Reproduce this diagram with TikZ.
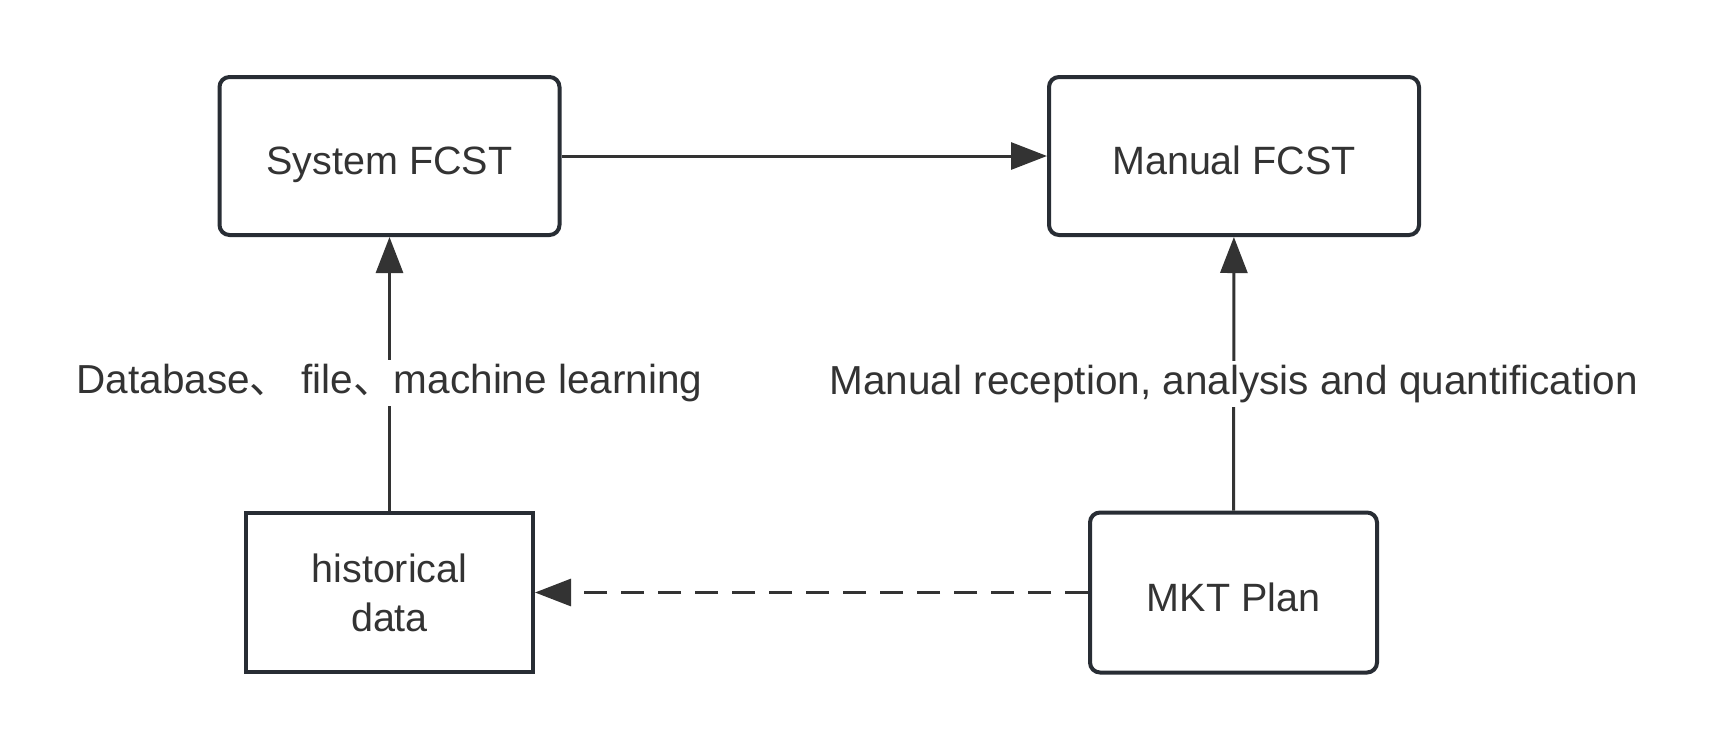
\documentclass[tikz,border=0pt]{standalone}
\usepackage{fontspec}
\setmainfont{Liberation Sans}
\newfontfamily\cjkfont{Noto Sans CJK SC}
\definecolor{tinta}{RGB}{51,51,51}
\definecolor{borde}{RGB}{40,45,52}
\usepackage{tikz}
\usetikzlibrary{arrows.meta,positioning}
\tikzset{
  caja/.style={draw=borde,line width=4pt,text=tinta,
    font=\fontsize{39.5}{49}\selectfont,inner sep=0pt},
  cajar/.style={caja,rounded corners=10pt,text height=37pt,text depth=0pt},
  flecha/.style={draw=tinta,line width=3pt,
    -{Triangle[length=36pt,width=27pt]}},
  etiqueta/.style={fill=white,text=tinta,inner sep=4pt,
    font=\fontsize{40.5}{48}\selectfont}
}

\begin{document}
\begin{tikzpicture}[x=1pt,y=-1pt]
      \useasboundingbox (0,0) rectangle (1722,748);
      \node[cajar,minimum width=340pt,minimum height=158pt] (sys) at (389.5,156) {System FCST};
      \node[cajar,minimum width=370pt,minimum height=158pt] (man) at (1234,156) {Manual FCST};
      \node[caja,align=center,minimum width=287pt,minimum height=159pt] (hist) at (389.5,592.5) {historical\\data};
      \node[cajar,minimum width=287pt,minimum height=160pt] (mkt) at (1233.5,592.5) {MKT Plan};
      \draw[flecha] (sys) -- (man);
      \draw[flecha] (hist) -- node[etiqueta,pos=0.468] (lbd) {Database{\cjkfont 、} file{\cjkfont 、}machine learning} (sys);
      \draw[flecha] (mkt) -- node[etiqueta,pos=0.463] (lman) {Manual reception, analysis and quantification} (man);
      \draw[flecha,dash pattern=on 23pt off 14pt] (mkt) -- (hist);
    \end{tikzpicture}
\end{document}
